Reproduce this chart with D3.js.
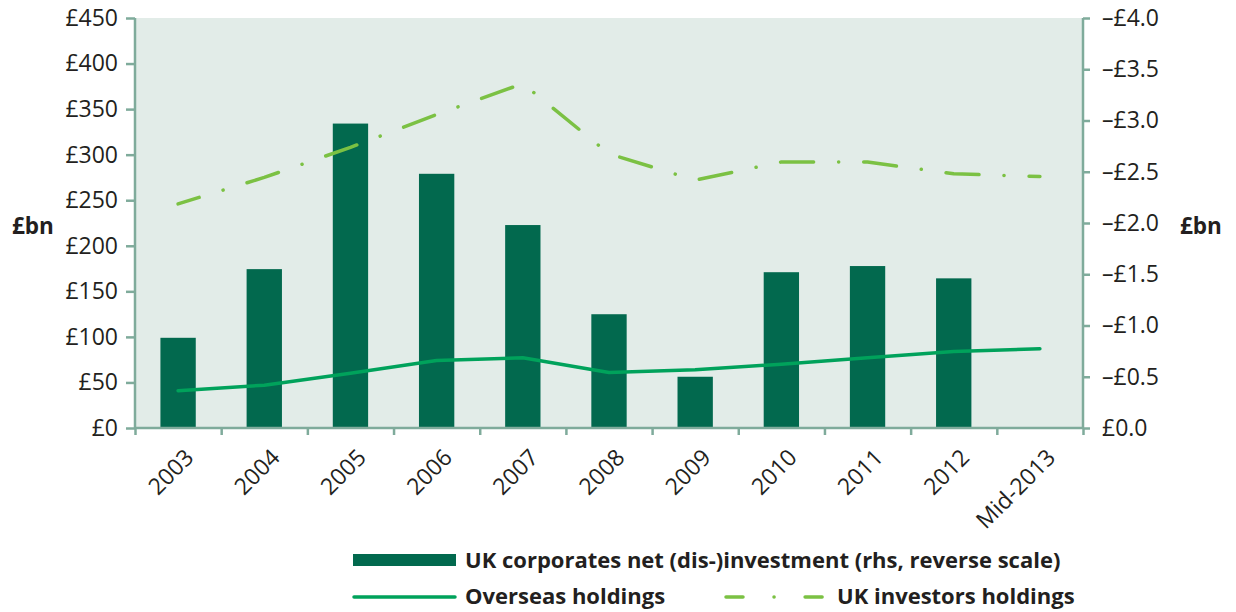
<!DOCTYPE html>
<html lang="en">
<head>
    <meta charset="UTF-8">
    <title>UK corporates net (dis-)investment and holdings</title>
    <script src="https://d3js.org/d3.v7.min.js"></script>
    <style>
        body {
            margin: 0;
            background: #ffffff;
        }
        svg text {
            font-family: "Open Sans", "Noto Sans", sans-serif;
            fill: #231f20;
        }
        .tick-label {
            font-size: 23px;
        }
        .unit-label, .legend-label {
            font-weight: bold;
        }
        .unit-label {
            font-size: 22.5px;
        }
        .legend-label {
            font-size: 22px;
        }
    </style>
</head>
<body>
    <div id="chart"></div>

    <script>
        const categories = ["2003", "2004", "2005", "2006", "2007", "2008", "2009", "2010", "2011", "2012", "Mid-2013"];
        // rhs, reverse scale (negative values)
        const netInvestment = [-0.88, -1.55, -2.97, -2.48, -1.98, -1.11, -0.5, -1.52, -1.58, -1.46, null];
        const overseasHoldings = [41, 47, 60, 74, 77, 61, 64, 70, 77, 84, 87];
        const ukInvestorsHoldings = [246, 275, 308, 344, 378, 301, 272, 292, 292, 279, 276];
        const leftTicks = [0, 50, 100, 150, 200, 250, 300, 350, 400, 450];
        const rightTicks = [0, -0.5, -1, -1.5, -2, -2.5, -3, -3.5, -4];

        const W = 1236, H = 612;
        const plot = { left: 135, right: 1083, top: 18, bottom: 428 };

        const axisColor = "#7fab9b";
        const barColor = "#02694e";
        const overseasColor = "#00a25b";
        const ukColor = "#7bc143";

        const svg = d3.select("#chart").append("svg")
            .attr("width", W)
            .attr("height", H);

        const x = d3.scaleBand()
            .domain(categories)
            .range([plot.left, plot.right])
            .padding(0);

        const xEdges = d3.scaleLinear()
            .domain([0, categories.length])
            .range([plot.left, plot.right]);

        const yLeft = d3.scaleLinear()
            .domain([0, 450])
            .range([plot.bottom, plot.top]);

        const yRight = d3.scaleLinear()
            .domain([0, -4])
            .range([plot.bottom, plot.top]);

        svg.append("rect")
            .attr("x", plot.left)
            .attr("y", plot.top)
            .attr("width", plot.right - plot.left)
            .attr("height", plot.bottom - plot.top)
            .attr("fill", "#e2ece8");

        const barW = x.bandwidth() * 0.41;
        svg.selectAll(".bar")
            .data(netInvestment.map((v, i) => ({ cat: categories[i], v: v })).filter(d => d.v !== null))
            .enter()
            .append("rect")
            .attr("class", "bar")
            .attr("x", d => x(d.cat) + (x.bandwidth() - barW) / 2)
            .attr("width", barW)
            .attr("y", d => yRight(d.v))
            .attr("height", d => yRight(0) - yRight(d.v))
            .attr("fill", barColor);

        const cx = c => x(c) + x.bandwidth() / 2;

        const holdingsLine = d3.line()
            .x((d, i) => cx(categories[i]))
            .y(d => yLeft(d));

        svg.append("path")
            .datum(overseasHoldings)
            .attr("d", holdingsLine)
            .attr("fill", "none")
            .attr("stroke", overseasColor)
            .attr("stroke-width", 3.5)
            .attr("stroke-linejoin", "round")
            .attr("stroke-linecap", "round");

        svg.append("path")
            .datum(ukInvestorsHoldings)
            .attr("d", holdingsLine)
            .attr("fill", "none")
            .attr("stroke", ukColor)
            .attr("stroke-width", 3.5)
            .attr("stroke-linejoin", "round")
            .attr("stroke-linecap", "round")
            .attr("stroke-dasharray", "33,25,0.1,25")
            .attr("stroke-dashoffset", 11);

        // axes
        const leftAxis = svg.append("g")
            .attr("transform", `translate(${plot.left},0)`)
            .call(d3.axisLeft(yLeft).tickValues(leftTicks).tickSize(9).tickPadding(8).tickFormat(d => "£" + d));

        const rightAxis = svg.append("g")
            .attr("transform", `translate(${plot.right},0)`)
            .call(d3.axisRight(yRight).tickValues(rightTicks).tickSize(7).tickPadding(12)
                .tickFormat(d => d === 0 ? "£0.0" : "\u2013£" + Math.abs(d).toFixed(1)));

        const bottomAxis = svg.append("g")
            .attr("transform", `translate(0,${plot.bottom})`)
            .call(d3.axisBottom(xEdges).ticks(categories.length).tickSize(7).tickFormat(""));

        [leftAxis, rightAxis, bottomAxis].forEach(g => {
            g.select(".domain").attr("stroke", axisColor).attr("stroke-width", 2.5);
            g.selectAll(".tick line").attr("stroke", axisColor).attr("stroke-width", 2.5);
            g.selectAll(".tick text").attr("class", "tick-label").attr("fill", "#231f20");
        });
        leftAxis.select(".domain").attr("d", `M0,${plot.top}V${plot.bottom}`);
        rightAxis.select(".domain").attr("d", `M0,${plot.top}V${plot.bottom}`);
        bottomAxis.select(".domain").attr("d", `M${plot.left},0H${plot.right}`);

        svg.selectAll(".x-label")
            .data(categories)
            .enter()
            .append("text")
            .attr("class", "tick-label")
            .attr("text-anchor", "end")
            .attr("transform", d => `translate(${cx(d) + 17},${plot.bottom + 31}) rotate(-45)`)
            .text(d => d);

        svg.append("text")
            .attr("class", "unit-label")
            .attr("x", 12)
            .attr("y", 234)
            .text("£bn");

        svg.append("text")
            .attr("class", "unit-label")
            .attr("x", 1180)
            .attr("y", 234)
            .text("£bn");

        // legend
        const legend = svg.append("g");

        legend.append("rect")
            .attr("x", 353)
            .attr("y", 554)
            .attr("width", 103)
            .attr("height", 12)
            .attr("fill", barColor);
        legend.append("text")
            .attr("class", "legend-label")
            .attr("x", 465)
            .attr("y", 568)
            .text("UK corporates net (dis-)investment (rhs, reverse scale)");

        legend.append("line")
            .attr("x1", 354).attr("x2", 455)
            .attr("y1", 597).attr("y2", 597)
            .attr("stroke", overseasColor)
            .attr("stroke-width", 3.5)
            .attr("stroke-linecap", "round");
        legend.append("text")
            .attr("class", "legend-label")
            .attr("x", 465)
            .attr("y", 604)
            .text("Overseas holdings");

        legend.append("line")
            .attr("x1", 726).attr("x2", 824)
            .attr("y1", 597).attr("y2", 597)
            .attr("stroke", ukColor)
            .attr("stroke-width", 3.5)
            .attr("stroke-linecap", "round")
            .attr("stroke-dasharray", "17,31,0.1,31");
        legend.append("text")
            .attr("class", "legend-label")
            .attr("x", 837)
            .attr("y", 604)
            .text("UK investors holdings");
    </script>
</body>
</html>
